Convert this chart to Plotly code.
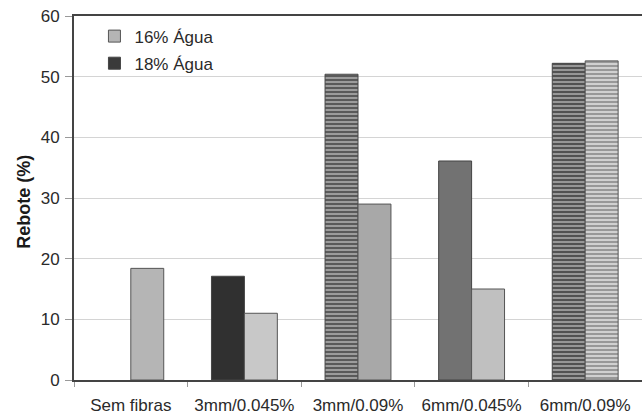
import plotly.graph_objects as go

categories = ["Sem fibras", "3mm/0.045%", "3mm/0.09%", "6mm/0.045%", "6mm/0.09%"]
agua18 = [None, 17.1, 50.4, 36.1, 52.2]
agua16 = [18.4, 11.0, 29.0, 15.0, 52.6]
y_ticks = [0, 10, 20, 30, 40, 50, 60]

col18 = ["#3a3a3a", "#303030", "#5a5a5a", "#727272", "#525252"]
pat18 = ["", "", "-", "", "-"]
fg18 = ["#3a3a3a", "#303030", "#3c3c3c", "#727272", "#383838"]
col16 = ["#b5b5b5", "#c8c8c8", "#a8a8a8", "#c0c0c0", "#d0d0d0"]
pat16 = ["", "", "", "", "-"]
fg16 = ["#b5b5b5", "#c8c8c8", "#a8a8a8", "#c0c0c0", "#b2b2b2"]

font = "Liberation Sans, Arial, sans-serif"

fig = go.Figure()
fig.add_trace(go.Bar(
    x=categories, y=agua18, name="18% Água", legendgroup="b", legendrank=2,
    marker=dict(color=col18, line=dict(color="#444444", width=1),
                pattern=dict(shape=pat18, fgcolor=fg18, bgcolor=col18, size=4, solidity=0.4)),
))
fig.add_trace(go.Bar(
    x=categories, y=agua16, name="16% Água", legendgroup="a", legendrank=1,
    marker=dict(color=col16, line=dict(color="#555555", width=1),
                pattern=dict(shape=pat16, fgcolor=fg16, bgcolor=col16, size=4, solidity=0.4)),
))

fig.update_layout(
    width=642, height=415,
    margin=dict(l=74, r=0, t=16, b=35),
    paper_bgcolor="white", plot_bgcolor="white",
    barmode="group", bargap=0.42, bargroupgap=0,
    font=dict(family=font, size=17, color="#2a2a2a"),
    showlegend=True,
    legend=dict(x=0.036, y=0.993, xanchor="left", yanchor="top",
                tracegroupgap=2,
                font=dict(size=17, color="#2a2a2a"),
                bgcolor="rgba(0,0,0,0)"),
    xaxis=dict(type="category", showline=True, linecolor="#444444", linewidth=2,
               mirror=True, ticks="outside", tickson="boundaries", ticklen=5,
               tickcolor="#999999", showgrid=False, automargin=False,
               ticklabelstandoff=9,
               tickfont=dict(size=17, color="#2a2a2a")),
    yaxis=dict(range=[0, 60], tickvals=y_ticks, showline=True, linecolor="#444444",
               linewidth=2, ticks="outside", ticklen=7, tickcolor="#999999",
               showgrid=True, gridcolor="#d4d4d4", gridwidth=1, zeroline=False,
               automargin=False, ticklabelstandoff=2,
               tickfont=dict(size=17, color="#2a2a2a")),
    annotations=[dict(text="<b>Rebote (%)</b>", xref="paper", yref="paper",
                      x=-0.088, y=0.49, textangle=-90, showarrow=False,
                      xanchor="center", yanchor="middle",
                      font=dict(size=18, color="#1a1a1a", family=font))],
)

fig.write_html("out.html", config={"displayModeBar": False},
               post_script="document.body.style.margin='0';document.body.style.overflow='hidden';")
